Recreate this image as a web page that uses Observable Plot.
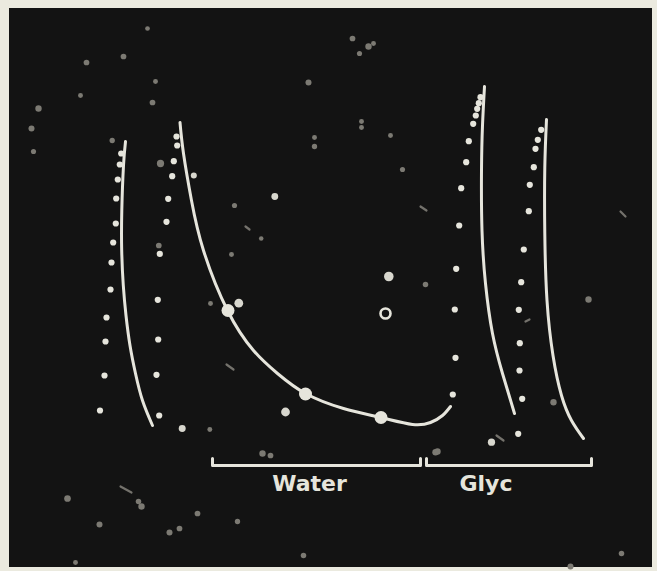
<!DOCTYPE html>
<html><head><meta charset="utf-8">
<script src="https://cdn.jsdelivr.net/npm/d3@7"></script>
<script src="https://cdn.jsdelivr.net/npm/@observablehq/plot@0.6"></script>
<style>html,body{margin:0;padding:0;background:#ebeadf;overflow:hidden;}</style>
</head><body><div id="chart"></div>
<script>
// Plate (dark photographic field inside a pale border)
const plate = [{x1: 9, x2: 652, y1: 8, y2: 567}];

// Curve 1 (left, water series A)
const curveA = [[125,141],[123,165],[121.3,210],[121.2,250],[122.8,285],[125.5,315],[129.5,345],[135,373],[142,400],[152,425]];
const dotsA = [[120.7,153],[119.3,164],[117.3,179],[115.7,198],[115.3,223],[112.7,242],[111,262],[110,289],[106,317],[105,341],[104,375],[99.5,410]];

// Curve 2 (water, falling curve with three marked points)
const curveB = [[179.5,122],[183,153],[191,200],[203,250],[227,310],[253,350],[277,373],[305,393],[343,408],[380,417],[412,424],[430,422],[442,415],[450,406]];
const dotsB = [[176,136],[176.7,145],[173.3,160.7],[171.7,175.7],[167.7,198.3],[166,221.3],[159.3,253.3],[157.3,299.3],[157.7,339],[156,374.3],[158.7,415]];
const markedB = [[227.5,310],[305,393.5],[380.5,417]];

// Glycerine curves
const curveC = [[484,86],[482,125],[481,170],[481.5,230],[485,283],[492,333],[502,373],[514,413]];
const dotsC = [[480,96.7],[478.3,102.7],[476.7,108.3],[475.3,115],[472.7,123.3],[468.3,140.7],[465.7,161.7],[460.7,187.7],[458.7,225],[455.7,268.3],[454.3,309],[455,357.3],[452.3,394]];
const curveD = [[546,119],[544.3,167],[544.3,233],[546.5,300],[552.5,355],[561,395],[571,420],[583,438]];
const dotsD = [[540.7,129.3],[537.3,139.3],[535,148.3],[533.3,166.7],[529.3,184.3],[528.3,210.7],[523.3,249],[520.7,281.7],[518.3,309.3],[519.3,342.7],[519,370],[521.7,398.3],[517.7,433.3]];

// Isolated marks
const ring = [[385,313]];
const blobs = [[388.3,276,4.5],[238.3,302.7,3.8],[285,411.5,3.8],[274.3,196,2.3],[193.3,175,1.8],[491,441.7,2.6],[181.7,428,2.4]];
const specks = [[38,108,2],[31,128,1.8],[33,151,1.3],[86,62,1.6],[123,56,1.6],[80,95,1.2],[147,28,1.1],[155,81,1.2],[152,102,1.6],[308,82,1.8],[352,38,1.6],[368,46,2],[373,43,1.2],[359,53,1.3],
  [160,163,2.6],[111.7,140,1.4],[158.3,245,1.6],[361,121,1.2],[361,127,1.2],[314,137,1.2],[314,146,1.4],[390,135,1.2],[402,169,1.3],[425,284,1.5],[234,205,1.3],[260.7,238,1],[231,254,1.2],[210,303,1.2],[209.3,429,1.2],
  [588,299,2],[553,401.7,2],[435,451.7,2],[262,453,2],[270,455,1.6],[437,451,2],[67,498,2.2],[138,501,1.5],[141,506,2],[99,524,1.8],[169,532,1.8],[179,528,1.6],[197,513,1.6],[75,562,1.2],[621,553,1.5],[570,566,1.8],[303,555,1.5],[237,521,1.4]];
const streaks = [[[226,364],[233,369]],[[420,206],[426,210]],[[245,226],[249,229]],[[525,321],[529,319]],[[496,435],[503,440]],[[120,486],[131,492]],[[620,211],[625,216]]];

// Group brackets and labels
const brackets = [
  {label: "Water", pts: [[212,458],[212,465],[420,465],[420,458]]},
  {label: "Glyc", pts: [[426,458],[426,465],[591,465],[591,458]]}
];
const labels = [{text: "Water", x: 309, y: 483}, {text: "Glyc", x: 485.5, y: 483}];

const ink = "#e6e5dc";
const lineOpts = (data) => Plot.line(data, {x: d => d[0], y: d => d[1], curve: "natural", stroke: ink, strokeWidth: 3, strokeLinecap: "round"});
const dotOpts = (data, r) => Plot.dot(data, {x: d => d[0], y: d => d[1], r, fill: ink, stroke: "none"});

const chart = Plot.plot({
  width: 657, height: 571, margin: 0,
  x: {domain: [0, 657], axis: null},
  y: {domain: [0, 571], range: [0, 571], axis: null},
  style: {background: "#ebeadf", fontFamily: "DejaVu Sans"},
  marks: [
    Plot.rect(plate, {x1: "x1", x2: "x2", y1: "y1", y2: "y2", fill: "#131313"}),
    Plot.dot(specks, {x: d => d[0], y: d => d[1], r: d => d[2], fill: "#7c7a73", stroke: "none"}),
    ...streaks.map(s => Plot.line(s, {x: d => d[0], y: d => d[1], stroke: "#74726c", strokeWidth: 2.2, strokeLinecap: "round"})),
    Plot.dot(blobs, {x: d => d[0], y: d => d[1], r: d => d[2], fill: "#d8d7ce", stroke: "none"}),
    lineOpts(curveA), lineOpts(curveB), lineOpts(curveC), lineOpts(curveD),
    dotOpts(dotsA, 3.1), dotOpts(dotsB, 3.1), dotOpts(dotsC, 3.1), dotOpts(dotsD, 3.1),
    dotOpts(markedB, 6.5),
    Plot.dot(ring, {x: d => d[0], y: d => d[1], r: 5, fill: "none", stroke: ink, strokeWidth: 2.6}),
    ...brackets.map(b => Plot.line(b.pts, {x: d => d[0], y: d => d[1], stroke: ink, strokeWidth: 3, strokeLinejoin: "round", strokeLinecap: "round"})),
    Plot.text(labels, {x: "x", y: "y", text: "text", fill: ink, fontSize: 22, fontWeight: "bold", textAnchor: "middle", fontFamily: "DejaVu Sans"})
  ]
});
document.getElementById("chart").append(chart);
</script>
</body></html>
